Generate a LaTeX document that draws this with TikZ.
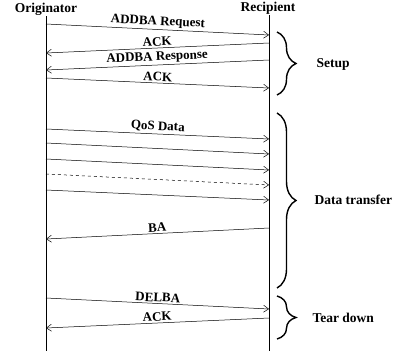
\documentclass[tikz,border=0pt]{standalone}
\usepackage{fontspec}
\setmainfont{Liberation Serif}
\usetikzlibrary{arrows.meta,decorations.pathreplacing}
\tikzset{
  msg/.style={-{Straight Barb[length=5pt,width=7pt]},line width=0.5pt},
  lbl/.style={font=\fontsize{13.5}{15}\selectfont\bfseries},
  mlbl/.style={font=\fontsize{13}{14}\selectfont\bfseries,midway,above,sloped,
    inner xsep=1pt,inner ysep=0pt,yshift=1.5pt},
  brc/.style={decorate,decoration={brace,amplitude=19pt},line width=1.4pt},
}
\begin{document}
\begin{tikzpicture}[x=1pt,y=-1pt]
\useasboundingbox (0,0) rectangle (396,351);
% lifelines
\node[lbl,inner sep=1pt](orig) at (46,9){Originator};
\node[lbl,inner sep=1pt](recip) at (268,8){Recipient};
\coordinate (oend) at (46,351);
\coordinate (rend) at (269,351);
\draw[line width=0.5pt](orig.south-|oend)--(oend);
\draw[line width=0.5pt](recip.south-|rend)--(rend);
%
\coordinate (o1) at (46,24);  \coordinate (r1) at (269,35);
\coordinate (r2) at (269,43); \coordinate (o2) at (46,53);
\coordinate (r3) at (269,60); \coordinate (o3) at (46,70);
\coordinate (o4) at (46,78);  \coordinate (r4) at (269,88);
\draw[msg](o1)--(r1)node[mlbl]{ADDBA Request};
\draw[msg](r2)--(o2)node[mlbl]{ACK};
\draw[msg](r3)--(o3)node[mlbl]{ADDBA Response};
\draw[msg](o4)--(r4)node[mlbl]{ACK};
%
\coordinate (o5) at (46,129); \coordinate (r5) at (269,139);
\coordinate (o6) at (46,143); \coordinate (r6) at (269,154);
\coordinate (o7) at (46,159); \coordinate (r7) at (269,170);
\coordinate (o8) at (46,174); \coordinate (r8) at (269,185);
\coordinate (o9) at (46,190); \coordinate (r9) at (269,200);
\coordinate (r10) at (269,228); \coordinate (o10) at (46,239);
\draw[msg](o5)--(r5)node[mlbl]{QoS Data};
\draw[msg](o6)--(r6);
\draw[msg](o7)--(r7);
\draw[msg,dashed](o8)--(r8);
\draw[msg](o9)--(r9);
\draw[msg](r10)--(o10)node[mlbl]{BA};
%
\coordinate (o11) at (46,298); \coordinate (r11) at (269,309);
\coordinate (r12) at (269,318); \coordinate (o12) at (46,328);
\draw[msg](o11)--(r11)node[mlbl]{DELBA};
\draw[msg](r12)--(o12)node[mlbl]{ACK};
% phases
\draw[brc](277,32)--(277,95);
\draw[brc](277,113)--(277,288);
\draw[brc](277,296)--(277,339);
\node[lbl,anchor=west](setup) at (313,64){Setup};
\node[lbl,anchor=west](data) at (311,200){Data transfer};
\node[lbl,anchor=west](tear) at (309,318){Tear down};
\end{tikzpicture}
\end{document}
